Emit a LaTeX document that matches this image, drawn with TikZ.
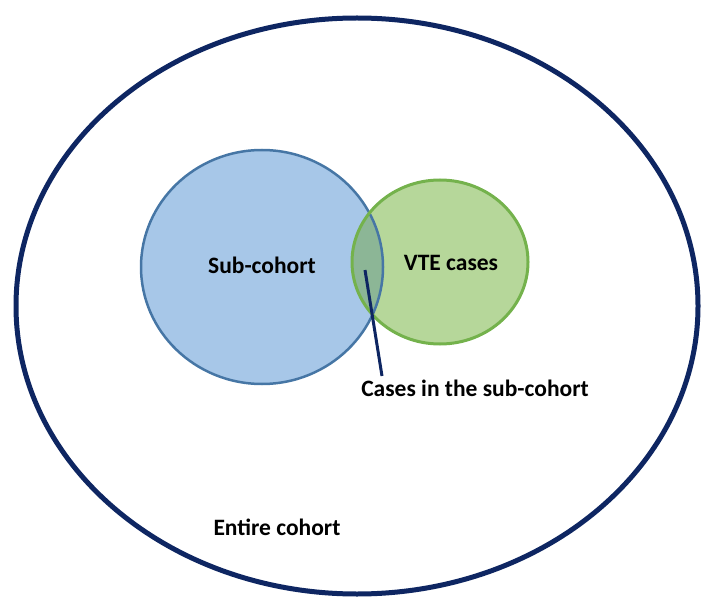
\documentclass[tikz,border=0pt]{standalone}
\usepackage{fontspec}
\setmainfont{Carlito}
\definecolor{navy}{RGB}{14,38,98}
\definecolor{bluefill}{RGB}{167,199,232}
\definecolor{blueline}{RGB}{70,118,165}
\definecolor{greenfill}{RGB}{182,215,154}
\definecolor{greenline}{RGB}{116,178,76}
\definecolor{overlap}{RGB}{140,182,150}
\begin{document}
\begin{tikzpicture}[x=1pt,y=1pt,
  lbl/.style={font=\fontsize{23.5}{28}\selectfont\bfseries, text=black, inner sep=0pt}]
\useasboundingbox (0,0) rectangle (701,598);
% outer ellipse
\draw[navy, line width=5pt] (357,292) ellipse [x radius=341pt, y radius=288pt];
% fills
\fill[bluefill] (262,331) ellipse [x radius=121pt, y radius=117pt];
\fill[greenfill] (440,336) ellipse [x radius=88pt, y radius=82pt];
\begin{scope}
  \clip (262,331) ellipse [x radius=121pt, y radius=117pt];
  \fill[overlap] (440,336) ellipse [x radius=88pt, y radius=82pt];
\end{scope}
% borders
\draw[blueline, line width=2.5pt] (262,331) ellipse [x radius=121pt, y radius=117pt];
\draw[greenline, line width=3pt] (440,336) ellipse [x radius=88pt, y radius=82pt];
% labels
\node[lbl] (sub) at (262,333) {Sub-cohort};
\node[lbl] (vte) at (451,335) {VTE cases};
\node[lbl] (cases) at (475,210) {Cases in the sub-cohort};
\node[lbl] (entire) at (277,71) {Entire cohort};
% pointer
\coordinate (p) at (365,328);
\coordinate (pe) at (382,222);
\draw[navy, line width=3pt] (p) -- (pe);
\end{tikzpicture}
\end{document}
